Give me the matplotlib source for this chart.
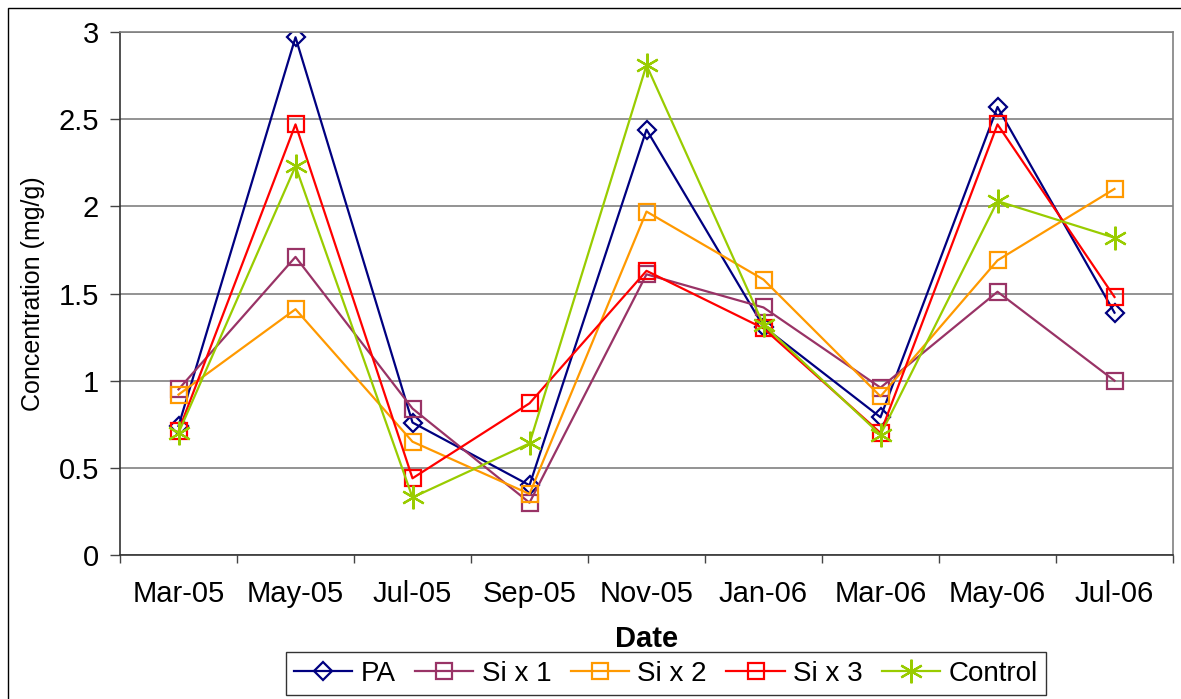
import numpy as np
import matplotlib.pyplot as plt
from matplotlib.lines import Line2D
from matplotlib.ticker import FixedLocator

# data
dates = ['Mar-05', 'May-05', 'Jul-05', 'Sep-05', 'Nov-05', 'Jan-06', 'Mar-06', 'May-06', 'Jul-06']
pa = [0.74, 2.97, 0.76, 0.40, 2.44, 1.31, 0.79, 2.57, 1.39]
si_x1 = [0.95, 1.71, 0.84, 0.30, 1.61, 1.42, 0.96, 1.51, 1.00]
si_x2 = [0.92, 1.41, 0.65, 0.35, 1.97, 1.58, 0.91, 1.69, 2.10]
si_x3 = [0.71, 2.47, 0.44, 0.87, 1.63, 1.30, 0.70, 2.47, 1.48]
control = [0.70, 2.23, 0.33, 0.64, 2.81, 1.32, 0.69, 2.03, 1.82]

series = [
    ('PA', pa, '#000080', 'D'),
    ('Si x 1', si_x1, '#993366', 's'),
    ('Si x 2', si_x2, '#FF9900', 's'),
    ('Si x 3', si_x3, '#FF0000', 's'),
    ('Control', control, '#99CC00', '*'),
]

plt.rcParams['font.family'] = ['Liberation Sans', 'DejaVu Sans']

W, H = 1181, 699
fig = plt.figure(figsize=(W / 100, H / 100), dpi=100)
ax = fig.add_axes([120 / W, (H - 555) / H, 1053 / W, 523 / H])


def style(col, mk):
    if mk == '*':
        return dict(color=col, lw=1.6, marker=(6, 2, 0), ms=17, mew=1.6)
    if mk == 'D':
        return dict(color=col, lw=1.6, marker='D', ms=9, mfc='none', mec=col, mew=1.6)
    return dict(color=col, lw=1.6, marker='s', ms=12, mfc='none', mec=col, mew=1.6)


x = np.arange(len(dates))
for name, vals, col, mk in series:
    ax.plot(x, vals, **style(col, mk))

ax.set_xlim(-0.5, len(dates) - 0.5)
ax.set_ylim(0, 3)
ax.set_yticks(np.arange(0, 3.01, 0.5))
ax.set_yticklabels(['0', '0.5', '1', '1.5', '2', '2.5', '3'])
ax.set_xticks(x)
ax.set_xticklabels(dates)
ax.xaxis.set_minor_locator(FixedLocator(np.arange(-0.5, len(dates), 1)))
ax.tick_params(axis='x', which='major', length=0, pad=18, labelsize=21)
ax.tick_params(axis='x', which='minor', length=6, width=1, color='#444444')
ax.tick_params(axis='y', length=7, width=1, color='#444444', labelsize=21, pad=8)

ax.grid(axis='y', color='#808080', lw=1.2)
ax.set_axisbelow(True)
for s in ['top', 'right']:
    ax.spines[s].set_color('#808080')
    ax.spines[s].set_linewidth(1.2)
for s in ['left', 'bottom']:
    ax.spines[s].set_color('#333333')
    ax.spines[s].set_linewidth(1.2)

ax.set_ylabel('Concentration (mg/g)', fontsize=18, labelpad=10)
ax.set_xlabel('Date', fontsize=21, fontweight='bold', labelpad=12)

handles = [Line2D([], [], label=name, **style(col, mk)) for name, vals, col, mk in series]
leg = fig.legend(handles=handles, loc='lower center', bbox_to_anchor=(666 / W, -0.014), ncol=5,
                 frameon=True, fancybox=False, edgecolor='#000000', fontsize=20,
                 handlelength=2.1, handletextpad=0.3, columnspacing=0.7, borderpad=0.3)
leg.get_frame().set_linewidth(1)

# outer chart border
fig.add_artist(plt.Rectangle((8 / W, -0.01), 1.02, (H - 8) / H + 0.01, transform=fig.transFigure,
                             fill=False, ec='black', lw=1))

fig.savefig('out.png', dpi=100)
